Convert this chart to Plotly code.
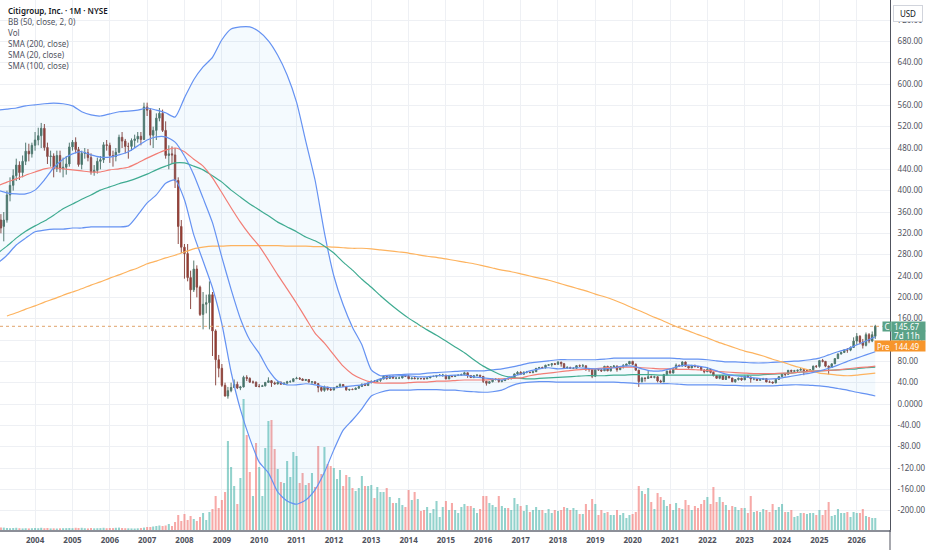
import pandas as pd
import plotly.graph_objects as go

months = pd.date_range("2003-01-01", periods=283, freq="MS")
quarters = pd.date_range("2003-01-01", "2026-07-01", freq="3MS")

year_labels = [str(y) for y in range(2004, 2027)]
price_ticks = [-200, -160, -120, -80, -40, 0, 40, 80, 120, 160, 200, 240, 280,
               320, 360, 400, 440, 480, 520, 560, 600, 640, 680, 720]
price_labels = ["0.0000" if v == 0 else f"{v:.2f}" for v in price_ticks]

opens = [
    352, 345, 333, 345, 392, 410, 428, 448, 434, 455, 474, 469,
    485, 495, 503, 517, 481, 464, 465, 441, 466, 441, 444, 450,
    482, 491, 477, 449, 470, 471, 462, 435, 438, 455, 458, 486,
    485, 466, 464, 472, 500, 493, 483, 483, 494, 497, 502, 496,
    557, 551, 504, 513, 536, 545, 513, 466, 469, 467, 419, 333,
    294, 282, 237, 214, 253, 219, 168, 187, 190, 205, 137, 83,
    67, 35, 15, 25, 31, 37, 30, 32, 50, 48, 41, 41,
    33, 33, 34, 40.5, 43.7, 39.6, 37.6, 41, 37.1, 39.1, 41.7, 42,
    47.3, 48.2, 46.8, 44.2, 45.9, 41.2, 41.6, 38.3, 31.1, 25.6, 31.6, 27.5,
    26.3, 30.7, 33.3, 36.6, 33.0, 26.5, 27.4, 27.1, 29.7, 32.7, 37.4, 34.6,
    39.6, 42.2, 42.0, 44.2, 46.7, 52.0, 48.0, 52.1, 48.3, 48.5, 48.8, 52.9,
    52.1, 47.4, 48.6, 47.6, 47.9, 47.6, 47.1, 48.9, 51.7, 51.8, 53.5, 54.0,
    54.1, 47.0, 52.4, 51.5, 53.3, 54.1, 55.2, 58.5, 53.5, 49.6, 53.2, 54.1,
    51.8, 42.6, 38.9, 41.8, 46.3, 46.6, 42.4, 43.8, 47.7, 47.2, 49.2, 56.4,
    59.4, 55.8, 59.8, 59.8, 59.1, 60.5, 66.9, 68.5, 68.0, 72.7, 73.5, 75.5,
    74.4, 78.5, 75.5, 67.5, 68.3, 66.7, 66.9, 71.9, 71.2, 71.7, 65.5, 64.8,
    52.1, 64.5, 64.0, 62.2, 70.7, 62.2, 70.0, 71.2, 64.4, 69.1, 71.9, 75.1,
    79.9, 74.4, 63.5, 42.1, 48.6, 47.9, 51.1, 50.0, 51.1, 43.1, 41.4, 55.1,
    61.7, 58.0, 65.9, 72.8, 71.2, 78.7, 70.8, 67.6, 71.9, 70.2, 69.2, 63.7,
    60.4, 65.1, 59.3, 53.4, 48.2, 53.4, 46.0, 51.9, 48.8, 41.7, 45.9, 48.4,
    45.2, 52.3, 50.7, 46.9, 47.1, 44.3, 46.0, 47.7, 41.3, 41.1, 39.5, 46.1,
    51.4, 56.2, 55.6, 63.2, 61.3, 62.3, 63.5, 64.9, 62.6, 62.6, 64.2, 70.9,
    70.4, 81.4, 80.0, 71.0, 68.5, 75.3, 85.1, 93.7, 96.6, 101.5, 101.0, 106,
    118, 127, 116, 110, 130, 118, 127,
]
highs = [
    382, 356, 360, 400, 425, 440, 460, 455, 466, 490, 488, 490,
    510, 518, 527, 525, 490, 475, 470, 475, 475, 462, 465, 490,
    495, 500, 482, 475, 480, 478, 470, 448, 462, 465, 491, 495,
    490, 475, 480, 505, 510, 497, 490, 498, 505, 510, 510, 565,
    565, 555, 520, 545, 555, 552, 530, 485, 483, 480, 425, 345,
    300, 300, 250, 269, 260, 222, 210, 205, 230, 210, 140, 92,
    75, 40, 32, 40, 46, 42, 34, 53, 54, 50, 44, 42,
    37.5, 36, 41, 50, 45, 42, 42.5, 42, 40.5, 43.5, 44.5, 48,
    51, 50.5, 48, 47, 46.5, 42.5, 42, 39, 31.5, 34.5, 32, 30,
    31.5, 34, 38.7, 37, 33.5, 28, 29, 31, 34.5, 38, 38, 40,
    44.5, 45, 46, 47.5, 53.5, 53, 53.5, 53, 51, 51.5, 53, 53.5,
    55, 49.5, 50.5, 49.5, 48.5, 49.5, 50, 52, 53, 54, 56, 56.5,
    54.5, 53, 53, 54, 55.5, 57, 60.5, 59, 53.5, 54.5, 56, 54.5,
    52, 43.5, 42.5, 47.5, 48, 47.5, 45, 48, 48.5, 50, 57, 61.5,
    61.5, 61, 62, 60.5, 61.5, 67.5, 69.5, 70, 73.5, 75, 76, 77,
    80.5, 79, 77, 71, 70, 69, 72.5, 74, 75, 72, 67, 65,
    65, 66.5, 65, 71.5, 71.5, 70.5, 73, 72, 70, 75, 75.5, 80.5,
    81, 76, 64, 51, 50, 62, 53.5, 53, 52, 45.5, 56.5, 62.5,
    66, 68, 76, 73.5, 80, 79.5, 71, 73.5, 74, 71.5, 70, 65,
    69, 66, 61, 54, 54, 54, 52.5, 54, 49, 46.5, 49.5, 49,
    52.5, 54.5, 51, 48, 47.5, 47.5, 49, 48.5, 44, 42, 46.5, 52,
    56.5, 56.5, 63.5, 64, 64, 64, 67.5, 65, 64, 65.5, 72, 73,
    82, 84.5, 80.5, 72, 76, 85.5, 95, 98, 102, 105, 108, 125,
    133, 129, 122, 134, 133, 136, 148.5,
]
lows = [
    330, 320, 305, 340, 380, 400, 418, 420, 425, 448, 455, 462,
    475, 485, 480, 475, 450, 445, 425, 435, 434, 425, 430, 445,
    475, 470, 445, 440, 460, 455, 430, 428, 432, 440, 452, 475,
    452, 445, 455, 470, 480, 470, 460, 475, 480, 490, 485, 495,
    540, 485, 480, 495, 530, 510, 460, 440, 450, 405, 300, 283,
    235, 230, 178, 210, 200, 165, 140, 170, 140, 90, 35, 50,
    32, 14, 10, 22, 30, 28, 26, 31, 43, 40, 38, 32,
    31, 32, 33, 40, 32, 36.5, 36.5, 36, 36.5, 38, 40, 42,
    47, 45.5, 43, 43, 40, 36.5, 38, 22, 23, 23, 25, 25,
    25.5, 30, 32.5, 32, 25, 24.5, 26, 27, 28.5, 32.5, 34, 34,
    39.5, 40.5, 42, 41.5, 46.5, 45.5, 47.5, 48, 46.5, 47, 48, 50.5,
    46.5, 46.3, 46.5, 45.5, 46, 46, 47, 48.5, 50.5, 49.5, 52, 51,
    46.5, 46.8, 50, 50.5, 53, 54, 54, 49, 49, 48.5, 52, 50,
    39.5, 34.5, 38, 40.5, 44, 40, 40.5, 43.5, 46, 46.5, 47, 54.5,
    55, 55.5, 57.5, 57.5, 57.5, 60, 66, 66, 66.5, 72, 70, 73,
    74, 70, 66.5, 66, 66, 65.5, 66.5, 69.5, 69, 62, 60.5, 48.5,
    50.5, 62.5, 60, 62, 61.5, 61, 68.5, 60.5, 63.5, 66.5, 71, 74.5,
    73, 62.5, 32, 40, 42, 47, 48.5, 48, 40.5, 40, 41, 53.5,
    57, 57.5, 65, 69.5, 70.5, 69.5, 66.5, 67.5, 68.5, 68.5, 62.5, 57.5,
    60, 57.5, 51.5, 47.5, 46.5, 45.5, 45, 48.5, 41, 40, 44, 43.5,
    45, 49.5, 40, 44.5, 43, 44, 45.5, 41, 40.5, 38.2, 39, 45.5,
    50.5, 51.5, 55, 58.5, 58.5, 60, 62.5, 54, 59.5, 60.5, 63, 67.5,
    68, 78, 69, 55.5, 68, 75, 84.5, 93, 95.5, 96, 99, 105,
    110, 112, 104, 108, 114, 116, 122,
]
closes = [
    345, 330, 345, 392, 410, 428, 448, 434, 455, 474, 469, 485,
    495, 503, 517, 481, 464, 465, 441, 466, 441, 444, 450, 482,
    491, 477, 449, 470, 471, 462, 435, 438, 455, 458, 486, 485,
    466, 464, 472, 500, 493, 483, 483, 494, 497, 502, 496, 557,
    551, 504, 513, 536, 545, 513, 466, 469, 467, 419, 333, 294,
    282, 237, 214, 253, 219, 168, 187, 190, 205, 137, 83, 67,
    35, 15, 25, 31, 37, 30, 32, 50, 48, 41, 41, 33,
    33, 34, 40.5, 43.7, 39.6, 37.6, 41, 37.1, 39.1, 41.7, 42, 47.3,
    48.2, 46.8, 44.2, 45.9, 41.2, 41.6, 38.3, 31.1, 25.6, 31.6, 27.5, 26.3,
    30.7, 33.3, 36.6, 33.0, 26.5, 27.4, 27.1, 29.7, 32.7, 37.4, 34.6, 39.6,
    42.2, 42.0, 44.2, 46.7, 52.0, 48.0, 52.1, 48.3, 48.5, 48.8, 52.9, 52.1,
    47.4, 48.6, 47.6, 47.9, 47.6, 47.1, 48.9, 51.7, 51.8, 53.5, 54.0, 54.1,
    47.0, 52.4, 51.5, 53.3, 54.1, 55.2, 58.5, 53.5, 49.6, 53.2, 54.1, 51.8,
    42.6, 38.9, 41.8, 46.3, 46.6, 42.4, 43.8, 47.7, 47.2, 49.2, 56.4, 59.4,
    55.8, 59.8, 59.8, 59.1, 60.5, 66.9, 68.5, 68.0, 72.7, 73.5, 75.5, 74.4,
    78.5, 75.5, 67.5, 68.3, 66.7, 66.9, 71.9, 71.2, 71.7, 65.5, 64.8, 52.1,
    64.5, 64.0, 62.2, 70.7, 62.2, 70.0, 71.2, 64.4, 69.1, 71.9, 75.1, 79.9,
    74.4, 63.5, 42.1, 48.6, 47.9, 51.1, 50.0, 51.1, 43.1, 41.4, 55.1, 61.7,
    58.0, 65.9, 72.8, 71.2, 78.7, 70.8, 67.6, 71.9, 70.2, 69.2, 63.7, 60.4,
    65.1, 59.3, 53.4, 48.2, 53.4, 46.0, 51.9, 48.8, 41.7, 45.9, 48.4, 45.2,
    52.3, 50.7, 46.9, 47.1, 44.3, 46.0, 47.7, 41.3, 41.1, 39.5, 46.1, 51.4,
    56.2, 55.6, 63.2, 61.3, 62.3, 63.5, 64.9, 62.6, 62.6, 64.2, 70.9, 70.4,
    81.4, 80.0, 71.0, 68.5, 75.3, 85.1, 93.7, 96.6, 101.5, 101.0, 106, 118,
    127, 116, 110, 130, 118, 130, 145.67,
]
volumes = [
    22, 25, 24, 20, 18, 20, 22, 18, 16, 18, 16, 18,
    20, 18, 22, 18, 20, 16, 17, 15, 17, 18, 19, 20,
    18, 22, 20, 22, 18, 16, 20, 17, 18, 19, 22, 18,
    20, 19, 22, 24, 20, 18, 17, 16, 15, 17, 20, 24,
    30, 30, 35, 40, 45, 40, 45, 60, 40, 80, 150, 90,
    160, 100, 140, 110, 90, 130, 170, 100, 180, 210, 340, 220,
    300, 380, 890, 630, 440, 260, 520, 1310, 950, 580, 340, 870,
    630, 340, 820, 1090, 1100, 810, 610, 480, 470, 690, 530, 780,
    740, 470, 570, 450, 470, 570, 430, 840, 560, 830, 660, 640,
    620, 510, 600, 440, 550, 530, 420, 390, 420, 540, 440, 440,
    450, 320, 430, 380, 380, 420, 330, 270, 270, 320, 250, 230,
    400, 300, 380, 310, 190, 200, 230, 170, 210, 290, 130, 230,
    290, 200, 270, 200, 170, 230, 260, 240, 240, 220, 170, 210,
    340, 340, 270, 250, 230, 340, 240, 220, 220, 200, 320, 260,
    240, 190, 250, 180, 200, 230, 200, 200, 170, 210, 170, 200,
    190, 200, 230, 220, 200, 220, 200, 160, 160, 260, 200, 310,
    260, 150, 200, 170, 180, 150, 150, 200, 150, 170, 120, 150,
    160, 180, 440, 390, 360, 420, 280, 210, 370, 330, 300, 240,
    260, 200, 270, 220, 210, 300, 250, 200, 240, 220, 260, 300,
    330, 260, 430, 280, 330, 280, 250, 200, 240, 230, 200, 220,
    220, 170, 340, 180, 190, 180, 210, 200, 180, 260, 200, 230,
    260, 180, 180, 200, 130, 140, 170, 170, 160, 170, 170, 150,
    200, 150, 200, 280, 140, 150, 210, 170, 170, 180, 130, 180,
    170, 170, 210, 140, 130, 120, 120,
]

# indicator lines, one value per quarter (Jan/Apr/Jul/Oct)
bb_upper = [
    551, 553, 555, 559, 561, 563, 564, 563, 559, 548,
    542, 540, 544, 548, 549, 551, 555, 551, 546, 538,
    574, 608, 632, 650, 683, 703, 707, 707, 698, 681,
    654, 617, 566, 493, 420, 321, 240, 186, 144, 111,
    64, 53, 54, 55, 56, 56, 58, 59, 60, 61,
    62, 62, 62, 64, 66, 69, 73, 77, 79, 81,
    83, 83, 83, 83, 83, 84, 86, 86, 86, 86,
    86, 86, 86, 85, 84, 84, 83, 81, 79, 79,
    78, 77, 77, 78, 79, 80, 81, 83, 86, 92,
    98, 103, 111, 118, 126,
]
bb_lower = [
    264, 279, 298, 311, 323, 326, 328, 328, 330, 330,
    332, 332, 332, 332, 334, 354, 377, 392, 414, 420,
    383, 317, 268, 218, 150, 60, -10, -65, -109, -129,
    -165, -182, -188, -180, -161, -128, -86, -49, -30, -9,
    15, 22, 26, 26, 26, 27, 27, 27, 26, 26,
    24, 23, 22, 23, 26, 34, 39, 41, 42, 42,
    41, 41, 41, 41, 41, 41, 41, 40, 39, 38,
    38, 38, 38, 37, 36, 36, 36, 36, 35, 35,
    34, 34, 34, 34, 35, 36, 36, 35, 34, 32,
    29, 26, 22, 19, 15,
]
sma20 = [
    401, 396, 394, 394, 401, 420, 443, 459, 469, 473,
    467, 463, 463, 467, 473, 484, 495, 501, 501, 491,
    465, 430, 386, 340, 275, 215, 160, 120, 95, 64,
    43, 36, 36, 38, 36, 32, 30, 32, 34, 36,
    41, 47, 51, 53, 53, 51, 51, 53, 53, 54,
    54, 51, 49, 47, 45, 51, 56, 62, 66, 68,
    66, 67, 68, 67, 66, 66, 68, 71, 71, 66,
    62, 62, 66, 71, 73, 71, 68, 62, 56, 53,
    51, 49, 47, 47, 49, 52, 55, 58, 62, 67,
    73, 80, 86, 92, 98,
]
sma50 = [
    409, 416, 422, 429, 435, 441, 443, 441, 439, 437,
    435, 435, 439, 441, 444, 452, 461, 469, 476, 480,
    473, 459, 446, 424, 396, 368, 341, 317, 296, 270,
    242, 216, 189, 161, 133, 114, 92, 71, 56, 47,
    41, 39, 39, 39, 40, 41, 41, 43, 43, 44,
    45, 45, 45, 46, 47, 48, 49, 53, 56, 58,
    60, 62, 64, 65, 66, 68, 68, 69, 69, 68,
    67, 66, 66, 65, 65, 64, 63, 61, 60, 59,
    58, 57, 57, 57, 58, 58, 60, 61, 62, 63,
    64, 66, 68, 69, 71,
]
sma100 = [
    283, 296, 311, 324, 334, 343, 354, 366, 375, 384,
    392, 401, 407, 413, 418, 424, 431, 439, 446, 452,
    452, 446, 439, 428, 416, 401, 388, 375, 364, 353,
    341, 332, 323, 313, 306, 296, 283, 266, 251, 234,
    219, 203, 188, 174, 161, 150, 139, 129, 118, 107,
    96, 83, 71, 62, 54, 50, 48, 47, 48, 49,
    50, 51, 52, 53, 53, 53, 54, 54, 55, 55,
    55, 54, 54, 54, 54, 54, 54, 54, 54, 54,
    54, 54, 55, 56, 57, 58, 60, 61, 62, 63,
    64, 65, 66, 68, 69,
]
sma200 = [
    None, 165, 171, 178, 184, 191, 197, 204, 210, 216,
    223, 229, 236, 242, 249, 255, 263, 268, 274, 279,
    285, 291, 294, 296, 296, 297, 297, 297, 297, 297,
    297, 296, 296, 296, 295, 295, 294, 293, 292, 292,
    291, 289, 287, 285, 283, 280, 277, 275, 272, 269,
    266, 263, 259, 255, 251, 248, 244, 240, 236, 232,
    227, 222, 217, 212, 206, 201, 195, 188, 180, 173,
    165, 158, 150, 143, 137, 130, 124, 117, 111, 105,
    99, 95, 90, 84, 79, 73, 68, 63, 58, 56,
    54, 53, 54, 56, 58,
]

last_close = 145.67
pre_price = "144.49"
countdown = "7d 11h"
legend_lines = ["Citigroup, Inc. · 1M · NYSE", "BB (50, close, 2, 0)", "Vol",
                "SMA (200, close)", "SMA (20, close)", "SMA (100, close)"]

BLUE = "#6592f2"
RED = "#f27d75"
GREEN = "#3fab91"
ORANGE = "#fdb35f"
GRID = "#eef0f4"
UP_LABEL = "#5aa287"
PRE_LABEL = "#f7952b"

vol_colors = ["rgba(38,166,154,0.5)" if c >= o else "rgba(239,83,80,0.5)"
              for o, c in zip(opens, closes)]

fig = go.Figure()

fig.add_trace(go.Bar(
    x=months, y=volumes, marker_color=vol_colors, marker_line_width=0,
    width=20 * 86400000, yaxis="y", hoverinfo="skip"
))


def line(vals, color, **kw):
    return go.Scatter(x=quarters, y=vals, mode="lines", yaxis="y2", hoverinfo="skip",
                      line=dict(color=color, width=1.2, shape="spline", smoothing=0.6), **kw)


fig.add_trace(line(bb_upper, BLUE))
fig.add_trace(line(bb_lower, BLUE, fill="tonexty", fillcolor="rgba(33,150,243,0.05)"))
fig.add_trace(line(sma200, ORANGE))
fig.add_trace(line(sma100, GREEN))
fig.add_trace(line(sma50, RED))
fig.add_trace(line(sma20, BLUE))

fig.add_trace(go.Candlestick(
    x=months, open=opens, high=highs, low=lows, close=closes, yaxis="y2",
    increasing=dict(line=dict(color="#56786c", width=1), fillcolor="#2f6d5a"),
    decreasing=dict(line=dict(color="#8e4c45", width=1), fillcolor="#a1291c"),
    hoverinfo="skip"
))

H = 530.0  # plot height in px
W = 890.0  # plot width in px


def tag(text, x_px, y_px, w, h, bg, align="left"):
    # small filled label box beside the price scale, placed in pixels
    return dict(x=x_px / W, y=1 - y_px / H, xref="paper", yref="paper",
                xanchor="left", yanchor="middle", text=text, showarrow=False,
                bgcolor=bg, borderpad=0, width=w, height=h, align=align,
                font=dict(size=8, color="white"))


annotations = []
for i, txt in enumerate(legend_lines):
    annotations.append(dict(
        x=6 / W, y=1 - (11 + 11 * i) / H, xref="paper", yref="paper",
        xanchor="left", yanchor="middle", showarrow=False, text=txt,
        font=dict(size=8, color="#131722" if i == 0 else "#50535e",
                  weight=600 if i == 0 else "normal")
    ))

annotations += [
    dict(x=893 / W, y=1 - 5 / H, xref="paper", yref="paper", xanchor="left", yanchor="top",
         text="USD", showarrow=False, bgcolor="white", bordercolor="#d1d4dc", borderwidth=1,
         borderpad=2, width=24, font=dict(size=8, color="#131722")),
    tag("C", 881.5, 326.7, 8, 9, UP_LABEL, align="center"),
    tag(f" {last_close:.2f}", 891, 326.5, 33, 9, UP_LABEL),
    tag(f" {countdown}", 891, 335.5, 33, 9, UP_LABEL),
    tag("Pre", 873.5, 346, 17, 10, PRE_LABEL, align="center"),
    tag(f" {pre_price}", 891, 346, 33, 10, PRE_LABEL),
]

fig.update_layout(
    width=932, height=550,
    margin=dict(l=0, r=42, t=0, b=20),
    paper_bgcolor="white", plot_bgcolor="white",
    showlegend=False,
    font=dict(family="Noto Sans", size=8, color="#333"),
    xaxis=dict(
        type="date", range=["2003-01-23", "2026-11-22"],
        tickvals=[f"{y}-01-01" for y in year_labels], ticktext=year_labels,
        showgrid=True, gridcolor=GRID, gridwidth=1, zeroline=False,
        showline=True, linecolor="#8c8f98", linewidth=1.5,
        ticks="outside", ticklen=2, tickcolor="rgba(0,0,0,0)",
        tickfont=dict(size=8, color="#50535e", weight="bold"),
        rangeslider=dict(visible=False), fixedrange=True,
    ),
    yaxis=dict(range=[0, 5300], visible=False, fixedrange=True),
    yaxis2=dict(
        overlaying="y", side="right", range=[-236.25, 757.5],
        tickvals=price_ticks, ticktext=price_labels,
        showgrid=True, gridcolor=GRID, gridwidth=1, zeroline=False,
        showline=True, linecolor="#50535e", linewidth=1,
        ticks="outside", ticklen=5, tickcolor="rgba(0,0,0,0)",
        tickfont=dict(size=8, color="#50535e"), fixedrange=True,
    ),
    shapes=[
        dict(type="line", xref="paper", x0=0, x1=1, yref="y2", y0=last_close, y1=last_close,
             line=dict(color="#e0a36c", width=1, dash="dot")),
        dict(type="line", xref="paper", x0=1, x1=1, yref="paper", y0=-20 / H, y1=0,
             line=dict(color="#50535e", width=1)),
    ],
    annotations=annotations,
)

# the page's default body margin would push the figure 8px down and right
fig.write_html("out.html", config={"displayModeBar": False},
               post_script="document.body.style.margin='0px';")
